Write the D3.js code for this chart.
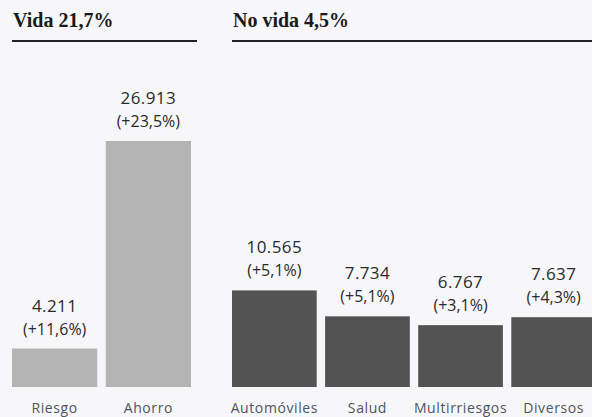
<!DOCTYPE html>
<html>
<head>
<meta charset="utf-8">
<script src="https://cdn.jsdelivr.net/npm/d3@7"></script>
<style>
  body { margin: 0; background: #f7f7f9; }
  svg { display: block; }
</style>
</head>
<body>
<div id="chart"></div>
<script>
// data
var vidaCats = ["Riesgo", "Ahorro"];
var vidaValues = [4211, 26913];
var vidaChanges = ["+11,6%", "+23,5%"];

var noVidaCats = ["Automóviles", "Salud", "Multirriesgos", "Diversos"];
var noVidaValues = [10565, 7734, 6767, 7637];
var noVidaChanges = ["+5,1%", "+5,1%", "+3,1%", "+4,3%"];

var titles = ["Vida 21,7%", "No vida 4,5%"];

var svgWidth = 592;
var svgHeight = 417;
var baseline = 387;

var svg = d3.select("#chart")
  .append("svg")
  .attr("width", svgWidth)
  .attr("height", svgHeight);

// one shared value scale for both panels
var yScale = d3.scaleLinear()
  .domain([0, d3.max(vidaValues.concat(noVidaValues))])
  .range([baseline, 141]);

var fmt = d3.formatLocale({ decimal: ",", thousands: ".", grouping: [3], currency: ["", ""] }).format(",d");

function drawPanel(cats, values, changes, title, x0, x1, lineEnd, fill) {
  var g = svg.append("g");

  // header
  g.append("text")
    .attr("x", x0 + 1)
    .attr("y", 27)
    .attr("font-family", "Liberation Serif, serif")
    .attr("font-weight", "bold")
    .attr("font-size", "20px")
    .attr("fill", "#1a1a1a")
    .text(title);
  g.append("line")
    .attr("x1", x0)
    .attr("x2", lineEnd)
    .attr("y1", 41)
    .attr("y2", 41)
    .attr("stroke", "#222")
    .attr("stroke-width", 2);

  var xScale = d3.scaleBand()
    .domain(cats)
    .range([x0, x1])
    .paddingInner(0.09);

  var rows = cats.map(function(c, i) {
    return { cat: c, value: values[i], change: changes[i] };
  });

  g.selectAll("rect")
    .data(rows)
    .enter()
    .append("rect")
    .attr("x", d => xScale(d.cat))
    .attr("y", d => yScale(d.value))
    .attr("width", xScale.bandwidth())
    .attr("height", d => baseline - yScale(d.value))
    .attr("fill", fill);

  g.selectAll(".val")
    .data(rows)
    .enter()
    .append("text")
    .attr("class", "val")
    .attr("x", d => xScale(d.cat) + xScale.bandwidth() / 2)
    .attr("y", d => yScale(d.value) - 37)
    .attr("text-anchor", "middle")
    .attr("font-family", "Open Sans, sans-serif")
    .attr("font-size", "17px")
    .attr("letter-spacing", "0.4px")
    .attr("fill", "#2a2a2a")
    .text(d => fmt(d.value));

  g.selectAll(".chg")
    .data(rows)
    .enter()
    .append("text")
    .attr("class", "chg")
    .attr("x", d => xScale(d.cat) + xScale.bandwidth() / 2)
    .attr("y", d => yScale(d.value) - 14)
    .attr("text-anchor", "middle")
    .attr("font-family", "Open Sans, sans-serif")
    .attr("font-size", "16px")
    .attr("fill", "#2a2a2a")
    .text(d => "(" + d.change + ")");

  g.selectAll(".cat")
    .data(rows)
    .enter()
    .append("text")
    .attr("class", "cat")
    .attr("x", d => xScale(d.cat) + xScale.bandwidth() / 2)
    .attr("y", 413)
    .attr("text-anchor", "middle")
    .attr("font-family", "Open Sans, sans-serif")
    .attr("font-size", "14px")
    .attr("letter-spacing", "0.6px")
    .attr("fill", "#4d5560")
    .text(d => d.cat);
}

drawPanel(vidaCats, vidaValues, vidaChanges, titles[0], 12, 191, 197, "#b4b4b4");
drawPanel(noVidaCats, noVidaValues, noVidaChanges, titles[1], 232, 596, 592, "#535353");
</script>
</body>
</html>
